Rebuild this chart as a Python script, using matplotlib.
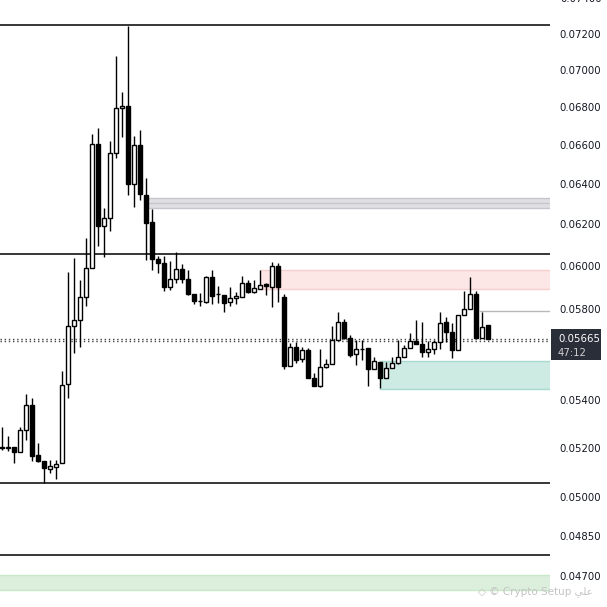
import numpy as np
import matplotlib.pyplot as plt
from matplotlib import ticker
from matplotlib.patches import Rectangle

# candle data (oldest first)
opens = [0.05202, 0.05200, 0.05202, 0.05182, 0.05273, 0.05377, 0.05170, 0.05146, 0.05114, 0.05122,
         0.05138, 0.05467, 0.05723, 0.05750, 0.05855, 0.05989, 0.06603, 0.06190, 0.06230, 0.06557,
         0.06793, 0.06803, 0.06399, 0.06598, 0.06344, 0.06210, 0.06032, 0.06013, 0.05901, 0.05938,
         0.05985, 0.05938, 0.05869, 0.05836, 0.05832, 0.05948, 0.05869, 0.05864, 0.05832, 0.05850,
         0.05855, 0.05920, 0.05878, 0.05892, 0.05915, 0.05901, 0.05999, 0.05855, 0.05545, 0.05628,
         0.05575, 0.05615, 0.05493, 0.05459, 0.05541, 0.05554, 0.05660, 0.05741, 0.05669, 0.05597,
         0.05619, 0.05624, 0.05532, 0.05562, 0.05493, 0.05536, 0.05558, 0.05584, 0.05624, 0.05655,
         0.05642, 0.05606, 0.05619, 0.05651, 0.05741, 0.05696, 0.05615, 0.05772, 0.05799, 0.05869,
         0.05669, 0.05727]
highs = [0.05285, 0.05248, 0.05202, 0.05285, 0.05424, 0.05407, 0.05219, 0.05146, 0.05150, 0.05150,
         0.05524, 0.05971, 0.06037, 0.05934, 0.06133, 0.06656, 0.06687, 0.06279, 0.06619, 0.07077,
         0.06879, 0.07245, 0.06645, 0.06677, 0.06429, 0.06274, 0.06046, 0.06046, 0.06022, 0.06066,
         0.06008, 0.05980, 0.05869, 0.05873, 0.05952, 0.05980, 0.05906, 0.05864, 0.05901, 0.05878,
         0.05952, 0.05934, 0.05934, 0.05980, 0.05920, 0.06018, 0.06013, 0.05869, 0.05646, 0.05651,
         0.05628, 0.05624, 0.05515, 0.05619, 0.05575, 0.05723, 0.05786, 0.05754, 0.05682, 0.05660,
         0.05660, 0.05624, 0.05584, 0.05562, 0.05562, 0.05584, 0.05660, 0.05637, 0.05691, 0.05750,
         0.05741, 0.05655, 0.05660, 0.05786, 0.05763, 0.05736, 0.05772, 0.05883, 0.05948, 0.05883,
         0.05786, 0.05727]
lows = [0.05190, 0.05186, 0.05138, 0.05182, 0.05231, 0.05146, 0.05142, 0.05057, 0.05097, 0.05073,
        0.05138, 0.05407, 0.05601, 0.05628, 0.05813, 0.05989, 0.06094, 0.06042, 0.06166, 0.06531,
        0.06640, 0.06344, 0.06284, 0.06319, 0.06027, 0.05980, 0.05966, 0.05883, 0.05887, 0.05920,
        0.05920, 0.05864, 0.05823, 0.05813, 0.05827, 0.05823, 0.05827, 0.05786, 0.05813, 0.05823,
        0.05855, 0.05873, 0.05873, 0.05892, 0.05864, 0.05809, 0.05832, 0.05532, 0.05545, 0.05558,
        0.05562, 0.05493, 0.05459, 0.05454, 0.05536, 0.05554, 0.05660, 0.05665, 0.05584, 0.05549,
        0.05571, 0.05459, 0.05532, 0.05450, 0.05493, 0.05536, 0.05554, 0.05584, 0.05624, 0.05642,
        0.05584, 0.05584, 0.05597, 0.05619, 0.05651, 0.05580, 0.05615, 0.05772, 0.05799, 0.05669,
        0.05669, 0.05665]
closes = [0.05200, 0.05202, 0.05182, 0.05273, 0.05377, 0.05166, 0.05146, 0.05118, 0.05126, 0.05134,
          0.05463, 0.05723, 0.05750, 0.05855, 0.05989, 0.06603, 0.06190, 0.06230, 0.06557, 0.06793,
          0.06803, 0.06399, 0.06598, 0.06349, 0.06205, 0.06032, 0.06013, 0.05901, 0.05938, 0.05985,
          0.05938, 0.05869, 0.05836, 0.05836, 0.05948, 0.05860, 0.05869, 0.05827, 0.05850, 0.05860,
          0.05920, 0.05878, 0.05897, 0.05910, 0.05906, 0.05999, 0.05901, 0.05545, 0.05628, 0.05571,
          0.05615, 0.05493, 0.05459, 0.05541, 0.05554, 0.05660, 0.05741, 0.05669, 0.05593, 0.05619,
          0.05619, 0.05532, 0.05567, 0.05493, 0.05536, 0.05558, 0.05584, 0.05624, 0.05655, 0.05642,
          0.05606, 0.05619, 0.05651, 0.05736, 0.05696, 0.05615, 0.05772, 0.05799, 0.05869, 0.05669,
          0.05718, 0.05665]

# drawn levels / zones
black_lines = [0.07251, 0.06056, 0.05057, 0.04778]
dotted_lines = [0.05665, 0.05655]
gray_line = (79.7, 0.05790)
zones = [  # (start candle, low, high, fill, edge)
    (24.3, 0.06279, 0.06329, '#e0e0e4', '#c6c6cc'),
    (43.2, 0.05892, 0.05980, '#fde6e6', '#f6cfcf'),
    (63.0, 0.05446, 0.05567, '#cdeae3', '#a8d9cc'),
    (-1.0, 0.04649, 0.04704, '#dcefdc', '#c8e6c8'),
]
tick_vals = [0.072, 0.070, 0.068, 0.066, 0.064, 0.062, 0.060, 0.058,
             0.054, 0.052, 0.050, 0.0485, 0.047]
top_tick = 0.074   # only half visible at the top edge
last_price = 0.05665
countdown = "47:12"

fig = plt.figure(figsize=(6.07, 6.07), dpi=100)
ax = fig.add_axes([0, 0, 550 / 607, 1])
ax.set_yscale('log')
ax.set_ylim(0.045868, 0.07395)
ax.set_xlim(-1 / 3, 548 / 6)
xmax = 548 / 6

x = np.arange(len(opens))
o = np.array(opens)
c = np.array(closes)

# zones first
for start, lo, hi, fc, ec in zones:
    ax.fill_between([start, xmax], lo, hi, color=fc, lw=0, zorder=0)
    ax.plot([start, xmax], [hi, hi], color=ec, lw=1, zorder=0.5)
    ax.plot([start, xmax], [lo, lo], color=ec, lw=1, zorder=0.5)
# the gray zone has a middle line
ax.plot([zones[0][0], xmax], [np.sqrt(zones[0][1] * zones[0][2])] * 2, color='#c6c6cc', lw=1, zorder=0.5)

for lvl in black_lines:
    ax.axhline(lvl, color='black', lw=1.1, zorder=1)
for lvl in dotted_lines:
    ax.axhline(lvl, color='#444444', lw=1, ls=(0, (1, 2)), zorder=1)
ax.plot([gray_line[0], xmax], [gray_line[1]] * 2, color='#b8b8b8', lw=1, zorder=1)

# candles
ax.vlines(x, lows, highs, color='black', lw=1, zorder=2)
bot = np.minimum(o, c)
top = np.maximum(o, c)
height = np.maximum(top - bot, 0.000005)
up = c >= o
ax.bar(x[up], height[up], bottom=bot[up], width=0.7, facecolor='white',
       edgecolor='black', lw=1, zorder=3)
ax.bar(x[~up], height[~up], bottom=bot[~up], width=0.7, facecolor='black',
       edgecolor='black', lw=1, zorder=3)

# axes styling
for s in ax.spines.values():
    s.set_visible(False)
ax.set_xticks([])
ax.yaxis.tick_right()
ax.yaxis.set_major_locator(ticker.FixedLocator(tick_vals))
ax.yaxis.set_major_formatter(ticker.FixedFormatter(['%.5f' % v for v in tick_vals]))
ax.yaxis.set_minor_locator(ticker.NullLocator())
ax.tick_params(axis='y', length=0, pad=7, labelsize=7.3, labelcolor='#131722')

H = 607.0
fig.canvas.draw()


def fig_y(price):
    return ax.transData.transform((0, price))[1] / fig.bbox.height


fig.text(560 / H, fig_y(top_tick), '%.5f' % top_tick, fontsize=7.3, color='#131722', va='center')

# last price label box
yd = fig_y(last_price)
fig.patches.append(Rectangle((551 / H, yd - 21 / H), 50 / H, 31 / H,
                             transform=fig.transFigure, facecolor='#2a2e39', edgecolor='none'))
fig.text(558 / H, yd, '%.5f' % last_price, color='white', fontsize=7.3, va='center')
fig.text(558 / H, yd - 14 / H, countdown, color='#d0d0d0', fontsize=7.3, va='center')

# watermark
fig.text(478 / H, 1 - 592 / H, '\u25c7 \u00a9 Crypto Setup \ufef2\ufee0\ufecb', color='#c4c4c4',
         fontsize=7.5, va='center', family=['DejaVu Sans'])

fig.savefig('out.png', dpi=100)
